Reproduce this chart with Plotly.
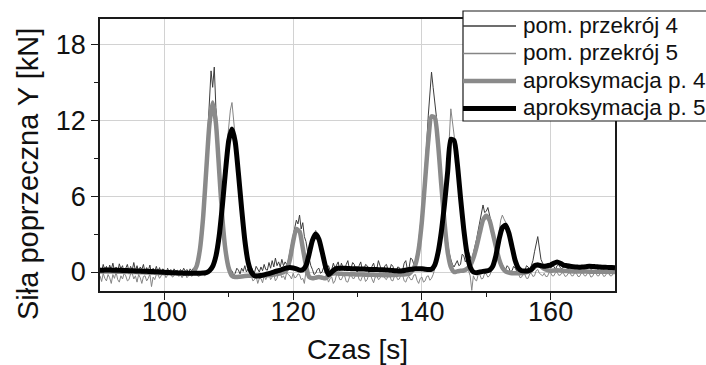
import numpy as np
import plotly.graph_objects as go

# measured signals: 0.25 s step, approximations: 0.5 s step (90 s .. 170 s)
czas_pom = np.arange(90.0, 170.001, 0.25)
czas_aprox = np.arange(90.0, 170.001, 0.5)

pom_p4 = [
    0.35, 0.05, 0.6, 0.15, 0.45, -0.05, 0.55, 0.2, 0.7, 0.1, 0.4, 0.0, 0.65, 0.25, 0.5, -0.1, 0.3, 0.6, 0.05, 0.45,
    0.15, 0.75, 0.1, 0.5, 0.0, 0.4, 0.2, 0.6, -0.05, 0.35, 0.1, 0.55, -0.15, 0.3, 0.05, 0.45, 0.0, 0.35, -0.1, 0.25,
    0.15, -0.1, 0.3, 0.0, 0.2, -0.15, 0.25, 0.05, 0.15, -0.1, 0.2, 0.0, 0.3, 0.05, 0.2, -0.05, 0.25, 0.1, 0.3, 0.35,
    0.8, 1.3, 2.1, 3.2, 4.6, 6.4, 8.6, 11.2, 13.5, 15.9, 14.6, 16.2, 13.0, 11.4, 8.7, 6.8, 4.5, 3.3, 2.0, 1.1,
    0.6, 0.2, 0.1, -0.25, -0.1, 0.3, 0.15, -0.15, 0.3, 0.05, 0.5, 0.0, 0.25, -0.1, 0.4, 0.1, -0.05, 0.45, 0.2, 0.0,
    0.4, 0.1, 0.6, 0.2, 0.15, 0.75, 0.3, 0.9, 0.4, 1.1, 0.5, 0.8, 0.4, 1.0, 0.5, 0.8, 0.6, 0.9, 1.6, 2.2,
    3.0, 3.6, 4.1, 3.8, 4.5, 3.4, 3.9, 2.8, 2.4, 1.6, 0.9, 0.5, 0.2, -0.2, -0.1, 0.2, 0.3, -0.1, 0.0, 0.4,
    -0.1, 0.3, 0.5, 0.1, 0.2, 0.7, 0.3, 0.5, 0.8, 0.1, 0.7, 0.35, 0.1, 0.6, 0.9, 0.2, 0.3, 0.75, 0.6, 0.1,
    0.0, 0.5, 0.8, 0.15, 0.2, 0.6, 0.5, -0.05, 0.1, 0.45, 0.7, 0.2, 0.25, 0.9, 0.55, 0.1, 0.0, 0.5, 0.6, 0.15,
    0.15, 0.6, 0.45, 0.0, -0.05, 0.4, 0.35, 0.05, 0.1, 0.7, 0.9, 0.2, 0.3, 1.1, 1.0, 0.6, 0.9, 1.5, 2.4, 3.4,
    4.8, 6.3, 8.0, 10.2, 12.4, 14.0, 15.8, 14.6, 13.6, 12.3, 11.0, 9.2, 7.6, 6.0, 4.6, 3.2, 2.3, 1.5, 1.0, 0.6,
    0.4, 0.7, 0.9, 0.5, 0.6, 1.4, 1.3, 0.8, 1.0, 1.6, 1.2, 0.9, 1.5, 2.0, 2.6, 3.3, 3.9, 4.6, 5.3, 4.7,
    4.8, 5.1, 4.6, 4.0, 3.4, 2.8, 2.3, 1.7, 1.2, 0.8, 0.6, 0.3, 0.2, 0.5, 0.35, 0.0, 0.1, 0.45, 0.3, 0.05,
    0.0, 0.35, 0.25, 0.05, 0.1, 0.5, 0.4, 0.2, 0.5, 0.9, 1.6, 2.2, 2.8, 1.9, 1.0, 0.7, 0.5, 0.3, 0.4, 0.6,
    0.3, 0.5, 0.45, 0.2, 0.5, 0.6, 0.35, 0.25, 0.4, 0.55, 0.3, 0.2, 0.45, 0.5, 0.3, 0.25, 0.4, 0.5, 0.2, 0.35,
    0.4, 0.25, 0.3, 0.5, 0.45, 0.2, 0.3, 0.45, 0.4, 0.2, 0.25, 0.45, 0.4, 0.2, 0.35, 0.45, 0.35, 0.2, 0.25, 0.4,
    0.3,
]

pom_p5 = [
    -0.3, -0.75, -0.1, -0.5, -0.7, -0.2, -0.45, -0.9, -0.2, -0.5, 0.0, -0.6, -0.8, -0.3, -0.55, -0.1, -0.3, -0.7, -0.6, -0.15,
    -0.1, -0.55, -0.3, -0.8, -0.2, -0.45, -0.9, -0.35, -0.3, -0.7, -0.5, -0.15, -1.15, -0.4, -0.6, -0.2, -0.2, -0.5, -0.3, -0.1,
    -0.1, -0.45, -0.25, -0.1, -0.15, -0.4, -0.3, -0.05, -0.1, -0.35, -0.2, -0.45, -0.2, -0.1, -0.45, -0.25, -0.15, -0.35, -0.2, -0.05,
    -0.1, -0.35, -0.3, -0.1, -0.15, -0.3, -0.2, 0.0, 0.0, 0.2, 0.5, 0.9, 1.4, 2.1, 3.0, 4.3, 5.6, 7.0, 8.6, 10.2,
    11.5, 12.8, 13.4, 12.0, 11.2, 9.8, 8.3, 6.6, 5.2, 3.6, 2.4, 1.3, 0.6, 0.0, -0.3, -0.7, -0.6, -0.3, -0.9, -0.5,
    -0.5, -0.85, -0.3, -0.6, -0.3, -0.1, -0.6, -0.4, -0.2, -0.7, -0.5, -0.1, -0.1, -0.45, -0.3, -0.6, 0.0, -0.2, -0.3, -0.55,
    -0.1, -0.45, -0.4, -0.15, -0.2, -0.6, -0.5, -0.9, 0.1, 0.6, 1.2, 1.8, 2.4, 2.9, 3.3, 3.0, 2.7, 2.0, 1.3, 0.6,
    0.1, -0.4, -0.8, -0.5, -0.4, -0.9, -0.7, -0.2, -0.2, -0.6, -0.6, -0.3, -0.3, -0.75, -0.8, -0.4, -0.2, -0.5, -0.5, -0.15,
    -0.1, -0.6, -0.7, -0.35, -0.3, -0.75, -0.6, -0.2, -0.2, -0.55, -0.85, -0.4, -0.3, -0.6, -0.5, -0.1, -0.1, -0.5, -0.6, -0.3,
    -0.25, -0.65, -0.7, -0.3, -0.3, -0.6, -0.55, -0.2, -0.2, -0.7, -0.8, -0.45, -0.35, -0.6, -0.6, -0.25, -0.2, -0.65, -0.9, -0.5,
    -0.4, -0.8, -0.7, -0.35, -0.3, -0.65, -0.5, -0.2, 0.3, 0.7, 1.2, 2.0, 3.0, 4.2, 5.6, 7.1, 8.6, 10.5, 12.9, 11.9,
    11.2, 10.0, 8.8, 7.2, 5.6, 4.2, 2.9, 1.8, 1.0, 0.1, -0.3, -1.45, -0.3, -0.6, -0.7, -0.2, -0.2, -0.55, -0.5, -0.1,
    -0.15, -0.4, -0.3, 0.0, 0.3, 0.8, 1.5, 2.4, 3.2, 4.1, 4.5, 4.2, 4.0, 3.7, 3.2, 2.5, 1.8, 1.2, 0.6, 0.2,
    -0.1, -0.45, -0.4, -0.1, -0.2, -0.5, -0.5, -0.15, -0.1, -0.35, -0.3, 0.1, 0.2, -0.1, -0.2, -0.3, -0.1, -0.35, -0.35, -0.05,
    -0.05, -0.3, -0.3, -0.05, 0.0, -0.25, -0.25, -0.05, -0.1, -0.35, -0.3, -0.1, -0.05, -0.3, -0.3, -0.05, -0.1, -0.35, -0.35, -0.1,
    -0.05, -0.3, -0.3, -0.05, -0.1, -0.4, -0.35, -0.1, -0.05, -0.3, -0.3, -0.05, -0.1, -0.35, -0.3, -0.05, -0.05, -0.3, -0.3, -0.1,
    -0.1,
]

aprox_p4 = [
    0.05, 0.05, 0.05, 0.04, 0.04, 0.03, 0.03, 0.02, 0.02, 0.01,
    0.0, 0.0, -0.01, -0.02, -0.03, -0.04, -0.05, -0.06, -0.07, -0.08,
    -0.09, -0.1, -0.1, -0.1, -0.1, -0.1, -0.1, -0.1, -0.1, 0.0,
    0.45, 1.7, 4.2, 8.0, 11.7, 13.4, 11.8, 8.1, 4.3, 1.7,
    0.3, -0.3, -0.4, -0.38, -0.35, -0.32, -0.3, -0.3, -0.3, -0.3,
    -0.28, -0.26, -0.25, -0.22, -0.2, -0.15, -0.1, -0.02, 0.2, 1.0,
    2.4, 3.4, 3.2, 1.9, 0.5, -0.4, -0.5, -0.45, -0.4, -0.45,
    -0.5, -0.3, -0.15, -0.1, -0.12, -0.14, -0.15, -0.16, -0.18, -0.18,
    -0.2, -0.2, -0.2, -0.22, -0.22, -0.22, -0.24, -0.24, -0.25, -0.25,
    -0.25, -0.24, -0.22, -0.2, -0.2, -0.18, -0.15, 0.1, 0.6, 1.8,
    4.0, 7.2, 10.4, 12.3, 12.2, 10.2, 7.0, 4.0, 1.6, 0.4,
    0.0, 0.05, 0.1, 0.12, 0.25, 0.5, 1.1, 2.0, 3.1, 4.1,
    4.45, 4.1, 3.1, 2.0, 1.0, 0.35, 0.05, -0.05, -0.1, -0.1,
    -0.1, -0.08, -0.05, 0.0, 0.15, 0.4, 0.6, 0.45, 0.25, 0.15,
    0.1, 0.12, 0.15, 0.12, 0.1, 0.08, 0.06, 0.05, 0.05, 0.04,
    0.04, 0.04, 0.03, 0.03, 0.03, 0.02, 0.02, 0.02, 0.01, 0.01,
    0.0,
]

aprox_p5 = [
    0.15, 0.15, 0.16, 0.16, 0.15, 0.14, 0.14, 0.13, 0.12, 0.11,
    0.10, 0.09, 0.08, 0.07, 0.06, 0.05, 0.04, 0.03, 0.02, 0.0,
    -0.02, -0.04, -0.05, -0.06, -0.07, -0.08, -0.09, -0.1, -0.1, -0.1,
    -0.1, -0.09, -0.08, -0.05, 0.1, 0.45, 1.25, 2.8, 5.2, 8.0,
    10.4, 11.3, 10.3, 7.8, 5.0, 2.5, 0.8, 0.0, -0.3, -0.32,
    -0.28, -0.22, -0.15, -0.08, 0.0, 0.08, 0.15, 0.25, 0.32, 0.36,
    0.32, 0.25, 0.15, 0.18, 0.5, 1.45, 2.5, 3.0, 2.6, 1.6,
    0.5, -0.2, 0.0, 0.22, 0.3, 0.3, 0.3, 0.28, 0.26, 0.25,
    0.25, 0.24, 0.24, 0.22, 0.2, 0.2, 0.2, 0.18, 0.18, 0.16,
    0.14, 0.12, 0.1, 0.08, 0.1, 0.15, 0.2, 0.22, 0.25, 0.25,
    0.25, 0.22, 0.2, 0.22, 0.55, 1.5, 3.1, 5.3, 7.9, 10.5,
    10.4, 8.6, 5.9, 3.4, 1.5, 0.4, 0.0, -0.05, 0.0, 0.05,
    0.08, 0.15, 0.45, 1.3, 2.6, 3.5, 3.7, 3.1, 2.0, 0.9,
    0.3, 0.1, 0.08, 0.1, 0.2, 0.5, 0.55, 0.5, 0.45, 0.5,
    0.55, 0.7, 0.8, 0.7, 0.55, 0.5, 0.45, 0.42, 0.4, 0.38,
    0.4, 0.42, 0.45, 0.44, 0.42, 0.4, 0.38, 0.38, 0.36, 0.35,
    0.34,
]

serie_nazwy = ["pom. przekrój 4", "pom. przekrój 5", "aproksymacja p. 4", "aproksymacja p. 5"]
serie_kolory = ["#3c3c3c", "#858585", "#8a8a8a", "#000000"]
serie_grubosci = [1, 1, 4.5, 5]

x_ticks = [100, 120, 140, 160]
y_ticks = [0, 6, 12, 18]

FONT = "Arial, Liberation Sans, sans-serif"

# plot-area geometry (px) used to place paper-referenced items
W, H = 706, 365
L, R, T, B = 100, 91, 19, 74
PW, PH = W - L - R, H - T - B


def px2x(px):
    return (px - L) / PW


def py2y(py):
    return (H - B - py) / PH


fig = go.Figure()
dane = [(czas_pom, pom_p4), (czas_pom, pom_p5), (czas_aprox, aprox_p4), (czas_aprox, aprox_p5)]
for i, (tx, ty) in enumerate(dane):
    line = dict(color=serie_kolory[i], width=serie_grubosci[i])
    if i >= 2:
        line.update(shape="spline", smoothing=0.6)
    fig.add_trace(go.Scatter(x=tx, y=ty, mode="lines", name=serie_nazwy[i],
                             line=line, showlegend=False))

axis_common = dict(
    showline=True, linecolor="#1a1a1a", linewidth=1.5, mirror=True,
    showgrid=True, gridcolor="#d2d2d2", gridwidth=1.2,
    ticks="outside", tickcolor="#1a1a1a", tickwidth=1.2, ticklen=7,
    tickfont=dict(family=FONT, size=27, color="#111111"),
    zeroline=False,
)

fig.update_xaxes(range=[90, 170], tickvals=x_ticks, ticklabelstandoff=-11,
                 minor=dict(tickvals=[110, 130, 150], ticks="outside", ticklen=4,
                            tickcolor="#1a1a1a", tickwidth=1.2, showgrid=False),
                 **axis_common)
fig.update_yaxes(range=[-1.5, 20], tickvals=y_ticks,
                 minor=dict(tickvals=[3, 9, 15], ticks="outside", ticklen=4,
                            tickcolor="#1a1a1a", tickwidth=1.2, showgrid=False),
                 **axis_common)

fig.add_annotation(text="Czas [s]", xref="paper", yref="paper", x=0.5, y=-0.215,
                   xanchor="center", yanchor="middle", showarrow=False,
                   font=dict(family=FONT, size=28, color="#111111"))
fig.add_annotation(text="Siła poprzeczna Y [kN]", xref="paper", yref="paper",
                   x=px2x(28), y=py2y(174), textangle=-90,
                   xanchor="center", yanchor="middle", showarrow=False,
                   font=dict(family=FONT, size=29, color="#111111"))

# legend box (drawn as shapes + text so the long sample lines match)
fig.add_shape(type="rect", xref="paper", yref="paper",
              x0=px2x(463), x1=px2x(730), y0=py2y(121), y1=py2y(11),
              line=dict(color="#1a1a1a", width=1.2), fillcolor="white", layer="above")
leg_y = [26.0, 53.5, 81.0, 108.5]
for i, nm in enumerate(serie_nazwy):
    fig.add_shape(type="line", xref="paper", yref="paper",
                  x0=px2x(463), x1=px2x(516), y0=py2y(leg_y[i]), y1=py2y(leg_y[i]),
                  line=dict(color=serie_kolory[i], width=serie_grubosci[i] * (1.3 if i < 2 else 1)),
                  layer="above")
    fig.add_annotation(text=nm, xref="paper", yref="paper", x=px2x(521), y=py2y(leg_y[i] - 1),
                       xanchor="left", yanchor="middle", showarrow=False,
                       font=dict(family=FONT, size=22.5, color="#111111"))

fig.update_layout(
    width=W, height=H,
    margin=dict(l=L, r=R, t=T, b=B, autoexpand=False),
    paper_bgcolor="white", plot_bgcolor="white",
    showlegend=False,
)

fig.write_html("out.html")
